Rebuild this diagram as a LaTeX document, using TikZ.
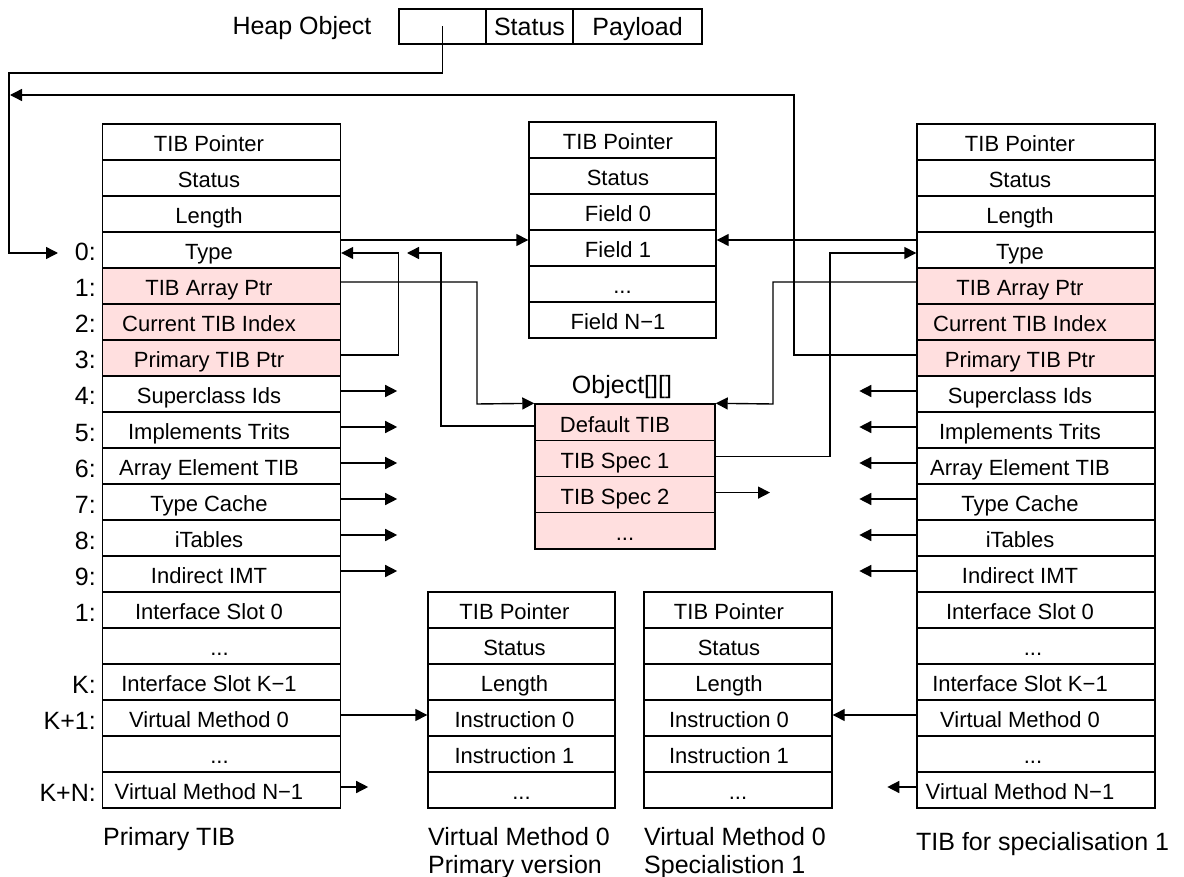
\documentclass[tikz,border=0pt]{standalone}
\usepackage{fontspec}
\setmainfont{Liberation Sans}
\usetikzlibrary{arrows.meta,calc}
\definecolor{tibpink}{RGB}{255,223,223}
\newcommand\cellfont{\fontsize{22}{26}\selectfont}
\newcommand\labfont{\fontsize{25}{28}\selectfont}
\newcommand\celltext[2]{#2\kern#1pt}
\newcommand\threedots{...}
\tikzset{
  cell/.style={draw, line width=1.4pt, minimum height=36pt, inner sep=0pt,
               font=\cellfont, text height=19.8pt, text depth=0pt},
  heapcell/.style={draw, line width=1.4pt, minimum height=35pt, inner sep=0pt,
               font=\labfont, text height=17.9pt, text depth=0pt},
  idx/.style={font=\labfont, anchor=base east, inner sep=0pt},
  lab/.style={font=\labfont, anchor=base west, inner sep=0pt},
  arr/.style={line width=1.4pt, -{Triangle[length=12pt,width=12pt]}},
}
\begin{document}
\begin{tikzpicture}[x=1pt,y=-1pt]
\useasboundingbox (0,0) rectangle (1184,877);

% Heap object
\node[font=\labfont, anchor=base, inner sep=0pt] (heaplab) at (302,35) {Heap Object};
\node[heapcell, minimum width=87pt] (H1) at (442.5,26.5) {};
\node[heapcell, minimum width=87pt] (H2) at (529.5,26.5) {Status};
\node[heapcell, minimum width=129pt] (H3) at (637.5,26.5) {Payload};

% Left column (Primary TIB)
\foreach \t/\k/\f [count=\i] in {TIB Pointer/25/white, Status/25/white, Length/25/white, Type/25/white,
  TIB Array Ptr/25/tibpink, Current TIB Index/25/tibpink, Primary TIB Ptr/25/tibpink,
  Superclass Ids/25/white, Implements Trits/25/white, Array Element TIB/25/white,
  Type Cache/25/white, iTables/25/white, Indirect IMT/25/white, Interface Slot 0/25/white,
  \threedots/4/white, Interface Slot K−1/25/white, Virtual Method 0/25/white,
  \threedots/4/white, Virtual Method N−1/25/white}
  \node[cell, minimum width=238pt, fill=\f] (L\i) at (221.5,{106+36*\i}) {\celltext{\k}{\t}};

% Right column (TIB for specialisation 1)
\foreach \t/\k/\f [count=\i] in {TIB Pointer/32/white, Status/32/white, Length/32/white, Type/32/white,
  TIB Array Ptr/32/tibpink, Current TIB Index/32/tibpink, Primary TIB Ptr/32/tibpink,
  Superclass Ids/32/white, Implements Trits/32/white, Array Element TIB/32/white,
  Type Cache/32/white, iTables/32/white, Indirect IMT/32/white, Interface Slot 0/32/white,
  \threedots/6/white, Interface Slot K−1/32/white, Virtual Method 0/32/white,
  \threedots/6/white, Virtual Method N−1/32/white}
  \node[cell, minimum width=238pt, fill=\f] (R\i) at (1036,{106+36*\i}) {\celltext{\k}{\t}};

% Index labels
\foreach \i/\l in {4/0:, 5/1:, 6/2:, 7/3:, 8/4:, 9/5:, 10/6:, 11/7:, 12/8:, 13/9:, 14/1:, 16/K:, 17/K+1:, 19/K+N:}
  \node[idx] (idx\i) at (96,{106+36*\i+11}) {\l};

% Middle object
\foreach \t/\k [count=\i] in {TIB Pointer/9, Status/9, Field 0/9, Field 1/9, \threedots/0, Field N−1/9}
  \node[cell, minimum width=187pt] (M\i) at (622.5,{104+36*\i}) {\celltext{\k}{\t}};

% Object[][]
\node[font=\labfont, anchor=base, inner sep=0pt] (objlab) at (622,393) {Object[][]};
\foreach \t/\k [count=\i] in {Default TIB/20, TIB Spec 1/20, TIB Spec 2/20, \threedots/0}
  \node[cell, minimum width=180pt, minimum height=36.25pt, fill=tibpink] (O\i) at (625,{404+36.25*(\i-0.5)}) {\celltext{\k}{\t}};

% Virtual method bodies
\foreach \t/\k [count=\i] in {TIB Pointer/14, Status/14, Length/14, Instruction 0/14, Instruction 1/14, \threedots/0}
  \node[cell, minimum width=187pt] (A\i) at (521.5,{574+36*\i}) {\celltext{\k}{\t}};
\foreach \t/\k [count=\i] in {TIB Pointer/18, Status/18, Length/18, Instruction 0/18, Instruction 1/18, \threedots/0}
  \node[cell, minimum width=188pt] (B\i) at (738,{574+36*\i}) {\celltext{\k}{\t}};

% Captions
\node[lab] (capL) at (103,845) {Primary TIB};
\node[lab] (capA1) at (428,845) {Virtual Method 0};
\node[lab] (capA2) at (428,873) {Primary version};
\node[lab] (capB1) at (644,845) {Virtual Method 0};
\node[lab] (capB2) at (644,873) {Specialistion 1};
\node[lab] (capR) at (916,850) {TIB for specialisation 1};

% Free ends
\coordinate (in0) at (58,253);
\coordinate (j95) at (10,95);
\coordinate (t1) at (407,253);
\coordinate (s2) at (770,492.6);

% Connectors
\draw[arr] (H1.center) |- (9,73) |- (in0);
\draw[arr] ($(R7.west)+(0,-3)$) -| (794,95) -- (j95);
\draw[arr] ($(L4.east)+(0,-10)$) -- ($(M4.west)+(0,-8)$);
\draw[arr] ($(R4.west)+(0,-10)$) -- ($(M4.east)+(0,-8)$);
\draw[arr] ($(L7.east)+(0,-3)$) -- ++(57,0) |- ($(L4.east)+(0,3)$);
\draw[arr] ($(O1.west)+(0,4)$) -| (441,253) -- (t1);
\draw[arr] ($(L5.east)+(0,-4)$) -| (477,404) -- (O1.north west);
\draw[arr] ($(R5.west)+(0,-4)$) -| (773,404) -- (O1.north east);
\draw[arr] ($(O2.east)+(0,-2)$) -| (830,253) -- ($(R4.west)+(0,3)$);
\draw[arr] (O3.east |- s2) -- (s2);
\foreach \i in {8,...,13} {
  \draw[arr] ($(L\i.east)+(0,-3)$) -- ++(56,0);
  \draw[arr] ($(R\i.west)+(0,-3)$) -- ++(-57,0);
}
\draw[arr] ($(L17.east)+(0,-3)$) -- ($(A4.west)+(0,-3)$);
\draw[arr] ($(R17.west)+(0,-3)$) -- ($(B4.east)+(0,-3)$);
\draw[arr] ($(L19.east)+(0,-3)$) -- ++(27,0);
\draw[arr] ($(R19.west)+(0,-3)$) -- ++(-29,0);
\end{tikzpicture}
\end{document}
